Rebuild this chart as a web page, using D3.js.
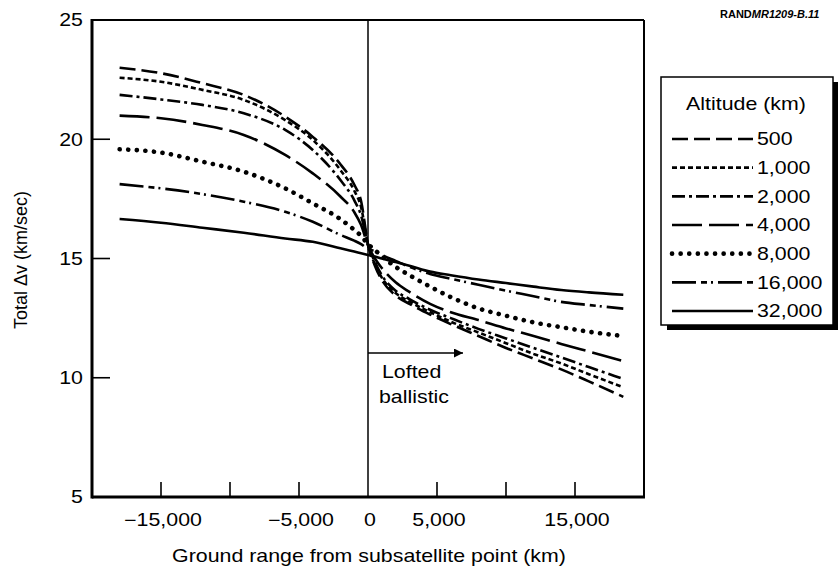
<!DOCTYPE html>
<html>
<head>
<meta charset="utf-8">
<script src="https://cdn.jsdelivr.net/npm/d3@7"></script>
<style>
  html, body { margin: 0; padding: 0; background: #fff; }
  svg { display: block; font-family: "Liberation Sans", Arial, Helvetica, sans-serif; }
</style>
</head>
<body>
<svg id="chart" width="838" height="574"></svg>
<script>
// ---- Data ----
const rangeKm = [-18000, -15000, -12000, -9000, -6000, -4000, -2000, -1000, -500, 0, 500, 1000, 2000, 3000, 4500, 6000, 8000, 10000, 12000, 14000, 16000, 18500];
const altitudes = ["500", "1,000", "2,000", "4,000", "8,000", "16,000", "32,000"];
const dv500   = [23.0, 22.77, 22.35, 21.86, 20.95, 20.1, 18.95, 18.1, 17.4, 15.6, 14.7, 14.1, 13.45, 13.1, 12.65, 12.25, 11.75, 11.25, 10.8, 10.35, 9.85, 9.2];
const dv1000  = [22.58, 22.41, 22.07, 21.65, 20.8, 19.97, 18.71, 17.85, 17.15, 15.6, 14.75, 14.2, 13.55, 13.2, 12.75, 12.35, 11.9, 11.45, 11.0, 10.6, 10.15, 9.6];
const dv2000  = [21.86, 21.67, 21.44, 21.09, 20.39, 19.55, 18.29, 17.45, 16.8, 15.6, 14.85, 14.3, 13.65, 13.3, 12.85, 12.5, 12.05, 11.65, 11.25, 10.85, 10.45, 9.95];
const dv4000  = [20.99, 20.88, 20.6, 20.18, 19.34, 18.57, 17.6, 16.95, 16.4, 15.55, 15.0, 14.6, 14.0, 13.6, 13.1, 12.75, 12.42, 12.07, 11.75, 11.42, 11.1, 10.7];
const dv8000  = [19.58, 19.44, 19.06, 18.64, 17.94, 17.31, 16.65, 16.2, 15.95, 15.6, 15.35, 15.1, 14.65, 14.3, 13.82, 13.38, 12.91, 12.6, 12.32, 12.12, 11.93, 11.75];
const dv16000 = [18.12, 17.94, 17.7, 17.38, 16.96, 16.54, 15.99, 15.75, 15.6, 15.4, 15.3, 15.15, 14.9, 14.65, 14.35, 14.15, 13.9, 13.65, 13.42, 13.18, 13.05, 12.9];
const dv32000 = [16.66, 16.5, 16.29, 16.08, 15.84, 15.7, 15.43, 15.29, 15.22, 15.15, 15.08, 15.0, 14.85, 14.7, 14.45, 14.3, 14.12, 13.97, 13.82, 13.68, 13.58, 13.48];
const seriesValues = [dv500, dv1000, dv2000, dv4000, dv8000, dv16000, dv32000];
const xTicks = [-15000, -10000, -5000, 5000, 10000, 15000];
const xTickLabels = [[-15000, "\u221215,000"], [-5000, "\u22125,000"], [0, "0"], [5000, "5,000"], [15000, "15,000"]];
const yTicks = [10, 15, 20];
const yTickLabels = [5, 10, 15, 20, 25];

// ---- Styles ----
const styles = [
  { dash: "16,6", width: 2.6, cap: "butt" },
  { dash: "5,3", width: 2.6, cap: "butt" },
  { dash: "13,4,3,4", width: 2.6, cap: "butt" },
  { dash: "30,7", width: 2.6, cap: "butt" },
  { dash: "0.1,8.5", width: 4.6, cap: "round" },
  { dash: "24,5,6,4,2,5", width: 2.6, cap: "butt" },
  { dash: null, width: 2.6, cap: "butt" }
];
const FS = 17.5;     // font size
const SX = 1.22;     // horizontal stretch of the scanned lettering

const svg = d3.select("#chart");
const x = d3.scaleLinear().domain([-20000, 20000]).range([92, 644]);
const y = d3.scaleLinear().domain([5, 25]).range([497, 20]);

function label(px, py, txt, anchor, size, dy) {
  return svg.append("text")
    .attr("transform", `translate(${px},${py}) scale(${SX},1)`)
    .attr("text-anchor", anchor || "start")
    .attr("font-size", size || FS)
    .attr("dy", dy || null)
    .text(txt);
}

// Curves
const line = d3.line().x(d => x(d[0])).y(d => y(d[1])).curve(d3.curveMonotoneX);
seriesValues.forEach((vals, i) => {
  const pts = rangeKm.map((r, j) => [r, vals[j]]);
  svg.append("path")
    .attr("d", line(pts))
    .attr("fill", "none")
    .attr("stroke", "#000")
    .attr("stroke-width", styles[i].width)
    .attr("stroke-linecap", styles[i].cap)
    .attr("stroke-dasharray", styles[i].dash);
});

// Zero line
svg.append("line").attr("x1", x(0)).attr("x2", x(0)).attr("y1", y(25)).attr("y2", y(5))
  .attr("stroke", "#000").attr("stroke-width", 1.5);

// Frame
svg.append("line").attr("x1", x(-20000)).attr("x2", x(20000)).attr("y1", y(25)).attr("y2", y(25)).attr("stroke", "#000").attr("stroke-width", 2);
svg.append("line").attr("x1", x(20000)).attr("x2", x(20000)).attr("y1", y(25)).attr("y2", y(5)).attr("stroke", "#000").attr("stroke-width", 2);
svg.append("line").attr("x1", x(-20000)).attr("x2", x(20000) + 1).attr("y1", y(5)).attr("y2", y(5)).attr("stroke", "#000").attr("stroke-width", 3);
svg.append("line").attr("x1", x(-20000)).attr("x2", x(-20000)).attr("y1", y(25) - 1).attr("y2", y(5) + 1.5).attr("stroke", "#000").attr("stroke-width", 3);

// Ticks
svg.selectAll(".yt").data(yTicks).enter().append("line")
  .attr("x1", x(-20000)).attr("x2", x(-20000) + 18).attr("y1", d => y(d)).attr("y2", d => y(d))
  .attr("stroke", "#000").attr("stroke-width", 1.6);
svg.selectAll(".xt").data(xTicks).enter().append("line")
  .attr("x1", d => x(d)).attr("x2", d => x(d)).attr("y1", y(5)).attr("y2", y(5) - 15)
  .attr("stroke", "#000").attr("stroke-width", 1.6);

// Tick labels
yTickLabels.forEach(v => label(83, y(v), v, "end", FS, "0.36em"));
xTickLabels.forEach(d => label(x(d[0]) + 2, 526, d[1], "middle"));

// Axis titles
label(369, 562, "Ground range from subsatellite point (km)", "middle");
svg.append("text").attr("transform", "translate(27,260) rotate(-90)").attr("text-anchor", "middle").attr("font-size", 18)
  .text("Total \u0394v (km/sec)");

// Lofted ballistic annotation
svg.append("defs").append("marker").attr("id", "arrow").attr("viewBox", "0 0 10 10")
  .attr("refX", 10).attr("refY", 5).attr("markerWidth", 14).attr("markerHeight", 9)
  .attr("markerUnits", "userSpaceOnUse").attr("orient", "auto")
  .append("path").attr("d", "M0,0 L10,5 L0,10 Z").attr("fill", "#000");
svg.append("line").attr("x1", x(0)).attr("x2", 463).attr("y1", 353).attr("y2", 353)
  .attr("stroke", "#000").attr("stroke-width", 1.6).attr("marker-end", "url(#arrow)");
label(382, 378, "Lofted");
label(379, 403, "ballistic");

// Legend
const lgX = 661, lgY = 77, lgW = 172, lgH = 248;
svg.append("rect").attr("x", lgX + 6).attr("y", lgY + 5).attr("width", lgW).attr("height", lgH).attr("fill", "#000");
svg.append("rect").attr("x", lgX).attr("y", lgY).attr("width", lgW).attr("height", lgH)
  .attr("fill", "#fff").attr("stroke", "#000").attr("stroke-width", 1.5);
label(746, 110, "Altitude (km)", "middle");
const rowY = d3.scaleLinear().domain([0, 6]).range([139, 311]);
altitudes.forEach((a, i) => {
  svg.append("line").attr("x1", 672).attr("x2", 753).attr("y1", rowY(i)).attr("y2", rowY(i))
    .attr("stroke", "#000").attr("stroke-width", styles[i].width)
    .attr("stroke-linecap", styles[i].cap).attr("stroke-dasharray", styles[i].dash);
  label(757, rowY(i), a, "start", FS, "0.36em");
});

// Figure id
const fid = svg.append("text").attr("x", 720).attr("y", 18)
  .attr("font-size", 11).attr("font-weight", "bold");
fid.append("tspan").text("RAND");
fid.append("tspan").attr("font-style", "italic").text("MR1209-B.11");
</script>
</body>
</html>
